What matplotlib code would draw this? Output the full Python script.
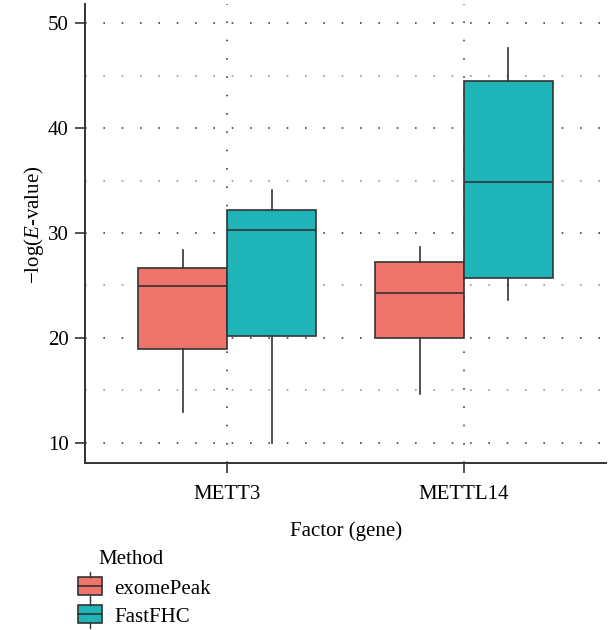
import matplotlib
matplotlib.use("Agg")
import matplotlib.pyplot as plt
from matplotlib.legend_handler import HandlerBase
from matplotlib.patches import Rectangle
from matplotlib.lines import Line2D

plt.rcParams['font.family'] = ['Liberation Serif', 'DejaVu Serif']
plt.rcParams['mathtext.fontset'] = 'custom'
plt.rcParams['mathtext.rm'] = 'Liberation Serif'
plt.rcParams['mathtext.it'] = 'Liberation Serif:italic'

# Box statistics
factors = ["METT3", "METTL14"]
methods = ["exomePeak", "FastFHC"]
colors = ["#EE746C", "#1FB5B8"]

whis_lo = {"exomePeak": [12.9, 14.6], "FastFHC": [10.0, 23.6]}
q1 = {"exomePeak": [18.9, 20.0], "FastFHC": [20.15, 25.7]}
med = {"exomePeak": [24.95, 24.3], "FastFHC": [30.3, 34.9]}
q3 = {"exomePeak": [26.65, 27.2], "FastFHC": [32.2, 44.5]}
whis_hi = {"exomePeak": [28.4, 28.7], "FastFHC": [34.1, 47.6]}

edge = "#333333"
width = 0.375
fs = 15

fig = plt.figure(figsize=(6.08, 6.30), dpi=100)
ax = fig.add_axes([0.14, 0.265, 0.857, 0.728])

for j, m in enumerate(methods):
    stats = []
    for i in range(len(factors)):
        stats.append(dict(med=med[m][i], q1=q1[m][i], q3=q3[m][i],
                          whislo=whis_lo[m][i], whishi=whis_hi[m][i], fliers=[]))
    offset = (j - 0.5) * width
    ax.bxp(stats, positions=[i + offset for i in range(len(factors))], widths=width,
           patch_artist=True, showcaps=False, showfliers=False,
           boxprops=dict(facecolor=colors[j], edgecolor=edge, linewidth=1.2),
           medianprops=dict(color=edge, linewidth=1.2),
           whiskerprops=dict(color=edge, linewidth=1.2), zorder=3)

ax.set_xlim(-0.6, 1.6)
ax.set_ylim(8.06, 51.8)
ax.set_xticks(range(len(factors)))
ax.set_xticklabels(factors)
ax.set_yticks([10, 20, 30, 40, 50])
ax.set_yticks([15, 25, 35, 45], minor=True)
ax.tick_params(axis='both', which='major', labelsize=fs, length=7, width=1.2, color=edge)
ax.tick_params(axis='x', which='major', pad=9)
ax.tick_params(axis='y', which='major', pad=5)
ax.tick_params(axis='y', which='minor', length=0)
ax.grid(True, which='major', linestyle=(0, (1, 10)), color='#444444', linewidth=1.2, zorder=0)
ax.grid(True, which='minor', axis='y', linestyle=(0, (1, 10)), color='#999999', linewidth=1.2, zorder=0)
ax.set_axisbelow(True)

for s in ['top', 'right']:
    ax.spines[s].set_visible(False)
for s in ['left', 'bottom']:
    ax.spines[s].set_color(edge)
    ax.spines[s].set_linewidth(1.4)

ax.set_xlabel("Factor (gene)", fontsize=fs, labelpad=12)
ax.set_ylabel("\u2212log($\\mathit{E}$-value)", fontsize=fs)
ax.yaxis.set_label_coords(-0.075, 0.52)


class BoxHandler(HandlerBase):
    def create_artists(self, legend, orig_handle, xd, yd, w, h, fontsize, trans):
        fc = orig_handle.get_facecolor()
        rect = Rectangle((xd, yd - h * 0.1), w, h * 1.2, facecolor=fc,
                         edgecolor=edge, linewidth=1.2, transform=trans)
        mid = Line2D([xd, xd + w], [yd + h / 2, yd + h / 2], color=edge, lw=1.2, transform=trans)
        top = Line2D([xd + w / 2] * 2, [yd + h * 1.1, yd + h * 1.4], color=edge, lw=1.0, transform=trans)
        bot = Line2D([xd + w / 2] * 2, [yd - h * 0.1, yd - h * 0.4], color=edge, lw=1.0, transform=trans)
        return [rect, mid, top, bot]


fig.text(98 / 608, 1 - 560 / 630, "Method", fontsize=fs, ha='left', va='center')
handles = [Rectangle((0, 0), 1, 1, facecolor=c) for c in colors]
leg = fig.legend(handles, methods, loc='upper left',
                 bbox_to_anchor=(78 / 608, 1 - 579 / 630), frameon=False, fontsize=fs,
                 handler_map={Rectangle: BoxHandler()},
                 handlelength=1.15, handleheight=0.75, handletextpad=0.6,
                 labelspacing=0.4, borderaxespad=0, borderpad=0)

fig.savefig("out.png", dpi=100)
